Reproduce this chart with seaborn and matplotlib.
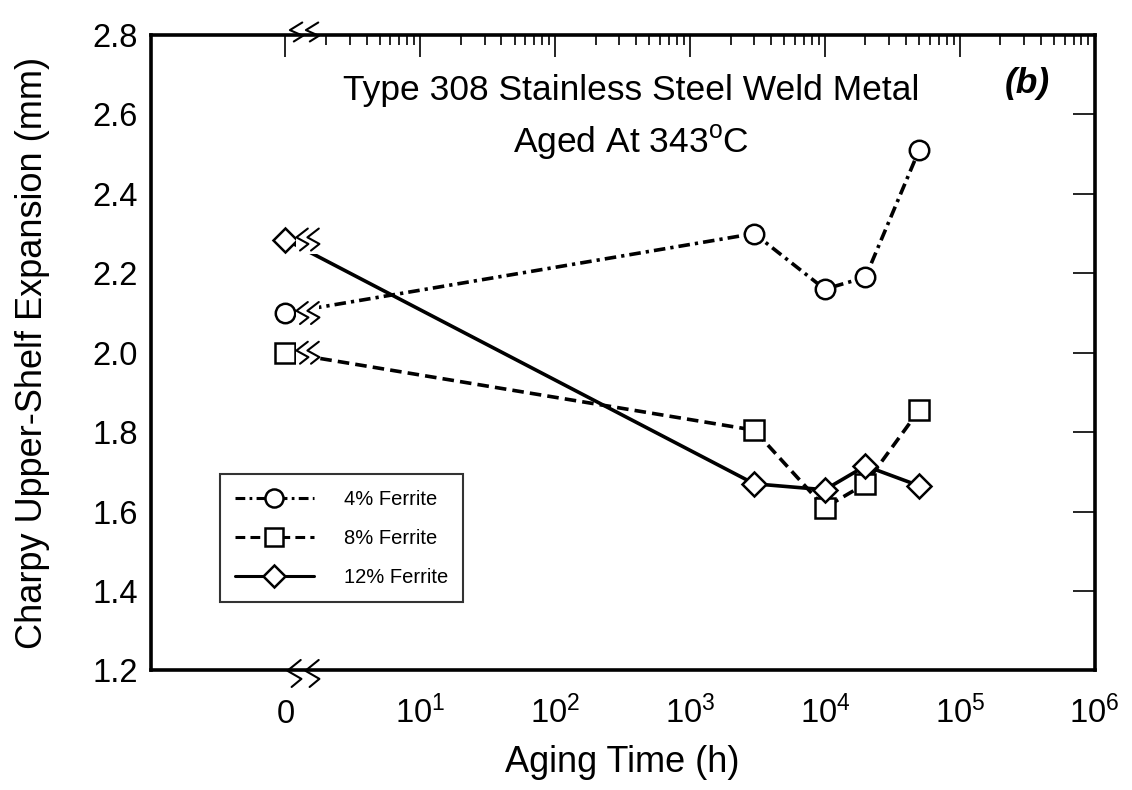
import numpy as np
import pandas as pd
import matplotlib
matplotlib.use("Agg")
import matplotlib.pyplot as plt
import matplotlib.transforms as mtransforms
from matplotlib.ticker import FixedLocator, NullFormatter
from matplotlib.patches import Polygon
from matplotlib.lines import Line2D
import seaborn as sns

# ---------------- data ----------------
aging_time_h = [0, 3000, 10000, 20000, 50000]
ferrite_4 = [2.10, 2.30, 2.16, 2.19, 2.51]
ferrite_8 = [2.00, 1.805, 1.61, 1.67, 1.855]
ferrite_12 = [2.285, 1.67, 1.655, 1.715, 1.665]
series_names = ["4% Ferrite", "8% Ferrite", "12% Ferrite"]
y_ticks = [1.2, 1.4, 1.6, 1.8, 2.0, 2.2, 2.4, 2.6, 2.8]
x_tick_labels = ["0", r"$\mathregular{10^{1}}$", r"$\mathregular{10^{2}}$",
                 r"$\mathregular{10^{3}}$", r"$\mathregular{10^{4}}$",
                 r"$\mathregular{10^{5}}$", r"$\mathregular{10^{6}}$"]
title_lines = ["Type 308 Stainless Steel Weld Metal", r"Aged At 343$\mathregular{^{o}}$C"]
panel_label = "(b)"
x_label = "Aging Time (h)"
y_label = "Charpy Upper-Shelf Expansion (mm)"

# 0 h is drawn at the first decade position (broken axis)
ZERO_POS = 1.0
x_tick_pos = [ZERO_POS] + [10.0 ** k for k in range(1, 7)]

df = pd.DataFrame({
    "time": aging_time_h * 3,
    "value": ferrite_4 + ferrite_8 + ferrite_12,
    "series": sum([[n] * len(aging_time_h) for n in series_names], []),
})
df["xpos"] = np.where(df["time"] == 0, ZERO_POS, df["time"])

# ---------------- style ----------------
sns.set_theme(style="white")
plt.rcParams["font.family"] = ["Liberation Sans", "DejaVu Sans"]
plt.rcParams["mathtext.fontset"] = "custom"
plt.rcParams["mathtext.rm"] = "Liberation Sans"
plt.rcParams["mathtext.it"] = "Liberation Sans:italic"
plt.rcParams["mathtext.bf"] = "Liberation Sans:bold"
for key in ["text.color", "axes.labelcolor", "xtick.color", "ytick.color",
            "xtick.labelcolor", "ytick.labelcolor", "axes.edgecolor"]:
    plt.rcParams[key] = "black"

fig = plt.figure(figsize=(11.32, 7.90), dpi=100)
ax = fig.add_axes([0.1330, 0.1513, 0.8339, 0.8044])
ax.set_xscale("log")
ax.set_xlim(0.1, 1e6)
ax.set_ylim(1.2, 2.8)

markers = {"4% Ferrite": "o", "8% Ferrite": "s", "12% Ferrite": "D"}
dashes = {"4% Ferrite": (3.2, 1.4, 0.9, 1.4), "8% Ferrite": (3.2, 1.7), "12% Ferrite": ""}

sns.lineplot(data=df, x="xpos", y="value", style="series", style_order=series_names,
             markers=markers, dashes=dashes, color="black", linewidth=2.6,
             markersize=14, markerfacecolor="white", markeredgecolor="black",
             markeredgewidth=1.8, ax=ax, legend=True, zorder=2, sort=True)

for ln in ax.lines:
    if ln.get_marker() == "D":
        ln.set_markersize(12)

# ---------------- axes / ticks ----------------
for sp in ax.spines.values():
    sp.set_linewidth(2.6)
    sp.set_color("black")
    sp.set_visible(True)

ax.set_xticks(x_tick_pos)
ax.set_xticklabels(x_tick_labels)
ax.xaxis.set_minor_locator(FixedLocator([m * 10.0 ** d for d in range(0, 6) for m in range(2, 10)]))
ax.xaxis.set_minor_formatter(NullFormatter())
ax.set_yticks(y_ticks)
ax.set_yticklabels([f"{v:.1f}" for v in y_ticks])

ax.tick_params(axis="both", which="both", direction="in", top=True, right=True,
               color="black", labelcolor="black")
ax.tick_params(axis="x", which="major", length=16, width=1.2, labelsize=23.5, pad=38)
ax.tick_params(axis="x", which="minor", length=7.5, width=1.2)
ax.tick_params(axis="y", which="major", length=16, width=1.2, labelsize=23.5, pad=9)
for lbl in ax.xaxis.get_majorticklabels():
    lbl.set_verticalalignment("baseline")

ax.set_xlabel(x_label, fontsize=26)
ax.set_ylabel(y_label, fontsize=26)
ax.xaxis.set_label_coords(0.5, -0.118)
ax.yaxis.set_label_coords(-0.107, 0.5)

ax.text(0.509, 0.8977, title_lines[0], transform=ax.transAxes, ha="center",
        va="baseline", fontsize=25.5)
ax.text(0.509, 0.8159, title_lines[1], transform=ax.transAxes, ha="center",
        va="baseline", fontsize=25.5)
ax.text(0.9285, 0.9087, panel_label, transform=ax.transAxes, ha="center",
        va="baseline", fontsize=25.5, fontweight="bold", fontstyle="italic")

leg = ax.legend(loc="lower left", bbox_to_anchor=(0.0736, 0.1078), borderaxespad=0,
                fontsize=14.5, frameon=True, fancybox=False, handlelength=3.9,
                handletextpad=1.5, borderpad=0.75, labelspacing=1.0)
leg.get_frame().set_edgecolor("black")
leg.get_frame().set_linewidth(1.5)
leg.get_frame().set_facecolor("white")
leg.set_zorder(6)
for h in leg.legend_handles:
    h.set_markersize(13 if h.get_marker() != "D" else 11)
    h.set_linewidth(2.2)
    h.set_markeredgewidth(1.8)

# ---------------- broken-axis marks ----------------
fig.canvas.draw()
ident = mtransforms.IdentityTransform()
zig = np.array([(0.45, -0.5), (-0.5, -0.1), (0.5, 0.2), (-0.2, 0.5)])


def zigzag(cx, cy, w, h, lw=1.5):
    pts = np.column_stack([cx + zig[:, 0] * w, cy - zig[:, 1] * h])
    ax.add_line(Line2D(pts[:, 0], pts[:, 1], transform=ident, color="black",
                       linewidth=lw, clip_on=False, zorder=5))


# data breaks next to the 0-h points
first = df[df["time"] == 0]
for _, row in first.iterrows():
    px, py = ax.transData.transform((row["xpos"], row["value"]))
    mask = Polygon([(px + 10.5, py - 14), (px + 34, py - 14), (px + 34, py + 14),
                    (px + 10.5, py + 14)], closed=True, transform=ident,
                   facecolor="white", edgecolor="none", zorder=3)
    ax.add_patch(mask)
    zigzag(px + 17, py, 12, 22)
    zigzag(px + 28, py, 12, 22)

# axis breaks at the 0 tick (bottom and top spines)
bx, by = ax.transData.transform((ZERO_POS, 1.2))
zigzag(bx + 9, by - 3, 14, 27)
zigzag(bx + 27, by - 3, 14, 27)
tx, ty = ax.transData.transform((ZERO_POS, 2.8))
zigzag(tx + 11, ty + 3, 13, 19)
zigzag(tx + 27, ty + 3, 13, 19)

fig.savefig("out.png", dpi=100)
